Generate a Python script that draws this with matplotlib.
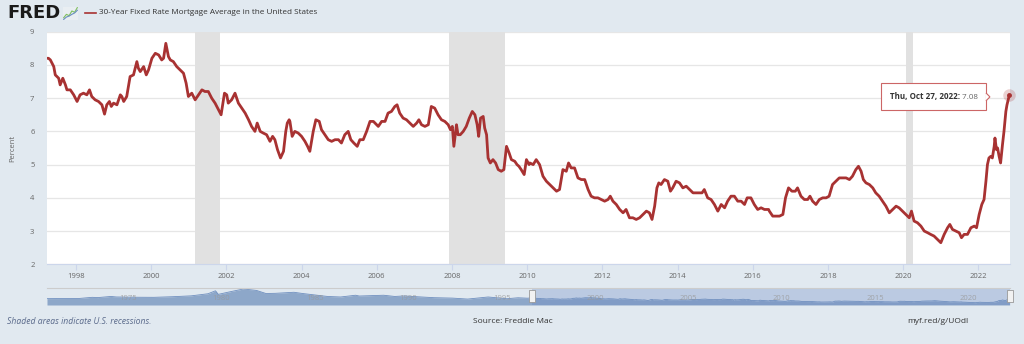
import matplotlib
matplotlib.use("Agg")
import matplotlib.pyplot as plt
from matplotlib.patches import Rectangle, Polygon
from matplotlib.transforms import IdentityTransform

plt.rcParams['font.family'] = ['Open Sans', 'DejaVu Sans']

# weekly 30-year fixed rate (decimal year, percent)
years = [
    1997.23, 1997.27, 1997.32, 1997.41, 1997.45, 1997.54, 1997.58, 1997.65, 1997.72, 1997.76,
    1997.85, 1997.94, 1998.03, 1998.11, 1998.20, 1998.29, 1998.36, 1998.42, 1998.51, 1998.60,
    1998.69, 1998.76, 1998.82, 1998.89, 1998.94, 1999.00, 1999.09, 1999.18, 1999.22, 1999.27,
    1999.35, 1999.44, 1999.53, 1999.62, 1999.66, 1999.71, 1999.80, 1999.87, 1999.93, 2000.02,
    2000.11, 2000.20, 2000.28, 2000.33, 2000.39, 2000.46, 2000.51, 2000.59, 2000.68, 2000.77,
    2000.86, 2000.93, 2000.99, 2001.08, 2001.17, 2001.26, 2001.35, 2001.43, 2001.52, 2001.61,
    2001.70, 2001.79, 2001.86, 2001.95, 2002.01, 2002.05, 2002.14, 2002.23, 2002.32, 2002.41,
    2002.50, 2002.59, 2002.67, 2002.76, 2002.82, 2002.90, 2002.98, 2003.07, 2003.16, 2003.23,
    2003.29, 2003.36, 2003.44, 2003.52, 2003.58, 2003.62, 2003.67,
    2003.69, 2003.75, 2003.82, 2003.91, 2004.00, 2004.09, 2004.16, 2004.22, 2004.31, 2004.38,
    2004.47, 2004.53, 2004.62, 2004.71, 2004.80, 2004.89, 2004.98, 2005.06, 2005.15, 2005.24,
    2005.31, 2005.39, 2005.48, 2005.55, 2005.64, 2005.73, 2005.82, 2005.91, 2006.04, 2006.13,
    2006.22, 2006.30, 2006.39, 2006.48, 2006.54, 2006.61, 2006.70, 2006.79, 2006.88, 2006.97,
    2007.06, 2007.12, 2007.19, 2007.28, 2007.37, 2007.45, 2007.54, 2007.63, 2007.72, 2007.81,
    2007.90, 2007.96, 2008.01, 2008.05, 2008.12, 2008.16, 2008.22, 2008.30, 2008.38, 2008.46,
    2008.54, 2008.61, 2008.67, 2008.71, 2008.76, 2008.83, 2008.87, 2008.92, 2008.96, 2009.02,
    2009.09, 2009.16, 2009.23, 2009.31, 2009.38, 2009.45, 2009.52, 2009.58, 2009.67, 2009.73,
    2009.78, 2009.84, 2009.92, 2009.98, 2010.05,
    2010.07, 2010.16, 2010.24, 2010.33, 2010.42, 2010.51, 2010.60, 2010.69, 2010.78, 2010.86,
    2010.95, 2011.04, 2011.10, 2011.17, 2011.26, 2011.35, 2011.44, 2011.53, 2011.62, 2011.70,
    2011.79, 2011.88, 2011.97, 2012.06, 2012.15, 2012.21, 2012.28, 2012.37, 2012.46, 2012.55,
    2012.63, 2012.72, 2012.81, 2012.90, 2012.99, 2013.08, 2013.17, 2013.25, 2013.32, 2013.39,
    2013.45, 2013.50, 2013.56, 2013.65, 2013.74, 2013.81, 2013.87, 2013.96, 2014.05, 2014.14,
    2014.23, 2014.32, 2014.41, 2014.49, 2014.58, 2014.65, 2014.71, 2014.80, 2014.89, 2014.98,
    2015.07, 2015.16, 2015.25, 2015.33, 2015.42, 2015.51, 2015.60, 2015.69, 2015.78, 2015.85,
    2015.95, 2016.04, 2016.13, 2016.22, 2016.31, 2016.42,
    2016.44, 2016.53, 2016.62, 2016.71, 2016.80, 2016.87, 2016.95, 2017.04, 2017.13, 2017.19,
    2017.28, 2017.37, 2017.46, 2017.52, 2017.59, 2017.68, 2017.77, 2017.86, 2017.95, 2018.03,
    2018.12, 2018.21, 2018.30, 2018.39, 2018.48, 2018.57, 2018.65, 2018.74, 2018.81, 2018.88,
    2018.94, 2019.01, 2019.10, 2019.19, 2019.27, 2019.36, 2019.45, 2019.54, 2019.63, 2019.72,
    2019.81, 2019.89, 2019.98, 2020.07, 2020.16, 2020.22, 2020.29, 2020.38, 2020.47, 2020.56,
    2020.65, 2020.73, 2020.82, 2020.91, 2021.00, 2021.09, 2021.18, 2021.24, 2021.31, 2021.40,
    2021.49, 2021.55, 2021.62, 2021.71, 2021.80, 2021.89, 2021.95, 2022.02, 2022.09, 2022.15,
    2022.20, 2022.24, 2022.28, 2022.33, 2022.37, 2022.42, 2022.44, 2022.48, 2022.51, 2022.55,
    2022.59, 2022.64, 2022.68, 2022.73, 2022.76, 2022.82,
]
rates = [
    8.20, 8.20, 8.15, 7.95, 7.70, 7.60, 7.40, 7.60, 7.40, 7.25,
    7.25, 7.10, 6.90, 7.10, 7.15, 7.10, 7.25, 7.05, 6.95, 6.90,
    6.80, 6.52, 6.80, 6.90, 6.75, 6.85, 6.80, 7.10, 7.05, 6.90,
    7.05, 7.65, 7.70, 8.10, 7.90, 7.80, 7.95, 7.70, 7.85, 8.20,
    8.35, 8.30, 8.15, 8.20, 8.65, 8.25, 8.15, 8.10, 7.95, 7.85,
    7.75, 7.45, 7.05, 7.15, 6.95, 7.10, 7.25, 7.20, 7.20, 7.00,
    6.85, 6.65, 6.50, 7.15, 7.10, 6.85, 6.95, 7.15, 6.85, 6.70,
    6.55, 6.35, 6.15, 6.00, 6.25, 6.00, 5.95, 5.90, 5.70, 5.85,
    5.75, 5.45, 5.20, 5.40, 6.00, 6.25, 6.35,
    6.30, 5.85, 6.00, 5.95, 5.85, 5.70, 5.55, 5.40, 6.00, 6.35,
    6.30, 6.05, 5.90, 5.75, 5.70, 5.75, 5.75, 5.65, 5.90, 6.00,
    5.75, 5.65, 5.55, 5.75, 5.75, 6.00, 6.30, 6.30, 6.15, 6.30,
    6.30, 6.55, 6.60, 6.75, 6.80, 6.55, 6.40, 6.35, 6.25, 6.15,
    6.25, 6.35, 6.20, 6.15, 6.20, 6.75, 6.70, 6.50, 6.35, 6.30,
    6.20, 6.05, 6.15, 5.55, 6.20, 5.90, 5.90, 6.00, 6.15, 6.40,
    6.60, 6.50, 6.20, 5.85, 6.40, 6.45, 6.10, 5.90, 5.20, 5.05,
    5.15, 5.05, 4.85, 4.80, 4.85, 5.55, 5.35, 5.15, 5.10, 5.00,
    4.95, 4.85, 4.70, 5.15, 5.00,
    5.05, 5.00, 5.15, 5.00, 4.65, 4.50, 4.40, 4.30, 4.20, 4.25,
    4.85, 4.80, 5.05, 4.90, 4.90, 4.60, 4.55, 4.55, 4.25, 4.05,
    4.00, 4.00, 3.95, 3.90, 3.95, 4.05, 3.90, 3.80, 3.65, 3.55,
    3.65, 3.40, 3.40, 3.35, 3.40, 3.50, 3.60, 3.55, 3.35, 3.75,
    4.30, 4.45, 4.40, 4.55, 4.50, 4.20, 4.30, 4.50, 4.45, 4.30,
    4.35, 4.25, 4.15, 4.15, 4.15, 4.15, 4.25, 4.00, 3.95, 3.80,
    3.60, 3.80, 3.70, 3.90, 4.05, 4.05, 3.90, 3.90, 3.80, 4.00,
    4.00, 3.80, 3.65, 3.70, 3.65, 3.65,
    3.60, 3.45, 3.45, 3.45, 3.50, 4.00, 4.30, 4.20, 4.20, 4.30,
    4.05, 3.95, 3.95, 4.05, 3.90, 3.80, 3.95, 4.00, 4.00, 4.05,
    4.40, 4.50, 4.60, 4.60, 4.60, 4.55, 4.65, 4.85, 4.95, 4.80,
    4.55, 4.45, 4.40, 4.30, 4.15, 4.05, 3.90, 3.75, 3.55, 3.65,
    3.75, 3.70, 3.60, 3.50, 3.40, 3.60, 3.30, 3.25, 3.15, 3.00,
    2.95, 2.90, 2.85, 2.75, 2.65, 2.90, 3.10, 3.20, 3.05, 3.00,
    2.95, 2.80, 2.90, 2.90, 3.10, 3.15, 3.10, 3.50, 3.80, 3.95,
    4.50, 5.00, 5.20, 5.25, 5.20, 5.55, 5.80, 5.45, 5.50, 5.25,
    5.05, 5.60, 6.00, 6.60, 6.80, 7.08,
]

# earlier history, only shown in the navigator strip
hist_years = [1971.28, 1972.0, 1973.0, 1973.7, 1974.0, 1974.7, 1975.0, 1976.0, 1977.0, 1978.0,
              1979.0, 1979.9, 1980.3, 1980.45, 1981.0, 1981.8, 1982.5, 1983.0, 1983.5, 1984.5,
              1985.0, 1986.0, 1986.3, 1987.0, 1987.8, 1988.0, 1989.3, 1989.9, 1990.4, 1991.0,
              1992.0, 1993.0, 1993.8, 1994.9, 1995.9, 1996.5, 1997.0]
hist_rates = [7.3, 7.4, 7.5, 8.8, 8.5, 9.8, 9.2, 8.9, 8.8, 9.5,
              10.5, 12.9, 16.3, 12.2, 14.8, 18.4, 16.7, 13.2, 13.4, 14.6,
              13.1, 10.5, 9.8, 9.2, 11.2, 10.3, 11.2, 9.8, 10.4, 9.6,
              8.4, 7.9, 6.8, 9.2, 7.2, 8.3, 7.8]

recessions = [(2001.17, 2001.84), (2007.92, 2009.42), (2020.08, 2020.25)]
nav_labels = [1975, 1980, 1985, 1990, 1995, 2000, 2005, 2010, 2015, 2020]

icon_x = [0, 1, 2, 3, 4, 5]
icon_a = [1, 2, 1.6, 3, 2.6, 4]
icon_b = [0.5, 1.2, 1.5, 2.0, 2.4, 3.2]

BG = '#e1e9f0'
RED = '#a83232'
X0, X1 = 1997.23, 2022.84

fig = plt.figure(figsize=(10.24, 3.44), dpi=100, facecolor=BG)

# main plot
ax = fig.add_axes([47 / 1024, 1 - 264.3 / 344, 963 / 1024, 232.6 / 344])
ax.set_facecolor('white')
ax.plot(years, rates, color=RED, lw=2.0, solid_joinstyle='round', zorder=3)
for a, b in recessions:
    ax.axvspan(a, b, color='#e1e1e1', lw=0, zorder=1)
ax.set_xlim(X0, X1)
ax.set_ylim(2, 9)
ax.set_yticks(range(2, 10))
ax.set_xticks(range(1998, 2023, 2))
ax.set_axisbelow(True)
ax.grid(axis='y', color='#e6e6e6', lw=0.9)
for s in ['top', 'right', 'left']:
    ax.spines[s].set_visible(False)
ax.spines['bottom'].set_color('#ccd6eb')
ax.tick_params(axis='y', length=0, pad=9, labelsize=5.5, labelcolor='#666666')
ax.tick_params(axis='x', length=4.5, color='#ccd6eb', pad=1.5, labelsize=5.5, labelcolor='#666666')
ax.set_ylabel('Percent', fontsize=5.5, color='#666666', labelpad=10)

# last point + tooltip
lx, ly = years[-1], rates[-1]
ax.plot(lx, ly, 'o', ms=9, color=RED, alpha=0.22, mec='none', zorder=4, clip_on=False)
ax.plot(lx, ly, 'o', ms=2.5, color=RED, zorder=5, clip_on=False)
t1 = ax.annotate('Thu, Oct 27, 2022:', xy=(lx, ly), xytext=(-86, -1),
                 textcoords='offset points', ha='left', va='center',
                 fontsize=5.8, color='#333333', fontweight='bold', zorder=7)
t2 = ax.annotate(' 7.08', xy=(1, 0), xycoords=t1, ha='left', va='bottom',
                 fontsize=5.8, color='#666666', zorder=7)

fig.canvas.draw()
rend = fig.canvas.get_renderer()
e1 = t1.get_window_extent(rend)
e2 = t2.get_window_extent(rend)
cy = (e1.y0 + e1.y1) / 2
bx0, bx1 = e1.x0 - 9, e2.x1 + 8
tip = Rectangle((bx0, cy - 13.5), bx1 - bx0, 27, transform=IdentityTransform(),
                fc='white', ec='#cc6666', lw=0.8, zorder=6, clip_on=False)
ax.add_artist(tip)
ax.add_artist(Polygon([(bx1, cy + 4), (bx1 + 4, cy), (bx1, cy - 4)], closed=False,
                      transform=IdentityTransform(), fc='white', ec='#cc6666', lw=0.8,
                      zorder=6, clip_on=False))

# navigator
nav = fig.add_axes([47 / 1024, 1 - 305 / 344, 963 / 1024, 17 / 344])
nav.set_facecolor(BG)
nx = hist_years + years
ny = hist_rates + rates
nav.fill_between(nx, ny, color='#8da7c9', lw=0)
nav.plot(nx, ny, color='#6f8fbf', lw=0.6)
nav.set_xlim(hist_years[0], X1)
nav.set_ylim(0, 19.5)
nav.axvspan(X0, X1, color='#6685c2', alpha=0.3, lw=0)
nav.axhline(19.5, color='#cccccc', lw=0.8, clip_on=False)
nav.set_xticks([])
nav.set_yticks([])
for s in nav.spines.values():
    s.set_visible(False)
for yr in nav_labels:
    nav.annotate(str(yr), xy=(yr, 7), xytext=(2, 0), textcoords='offset points',
                 ha='left', va='center', fontsize=5.5, color='#999999', alpha=0.8)
handle = [(-1, -2), (1, -2), (1, 2), (-1, 2), (-1, -2)]
for hx in [X0, X1]:
    nav.plot(hx, 10, marker=handle, ms=8, mfc='#f2f2f2', mec='#999999', mew=0.6,
             clip_on=False, zorder=5)

# header
fig.text(7 / 1024, 1 - 13 / 344, 'FRED', fontsize=13, fontweight='heavy', color='#1a1a1a',
         va='center', family=['DejaVu Sans'])
icon = fig.add_axes([63 / 1024, 1 - 20 / 344, 15 / 1024, 13 / 344])
icon.set_facecolor('#e9eef2')
icon.plot(icon_x, icon_a, color='#7fbf5f', lw=0.8)
icon.plot(icon_x, icon_b, color='#6a8fc0', lw=0.8)
icon.set_xticks([])
icon.set_yticks([])
for s in icon.spines.values():
    s.set_visible(False)
fig.lines.append(plt.Line2D([85 / 1024, 96 / 1024], [1 - 13 / 344, 1 - 13 / 344],
                            transform=fig.transFigure, color=RED, lw=1.2))
fig.text(99 / 1024, 1 - 13 / 344, '30-Year Fixed Rate Mortgage Average in the United States',
         fontsize=5.9, color='#333333', va='center')

# footer
fig.text(7 / 1024, 1 - 321.5 / 344, 'Shaded areas indicate U.S. recessions.', fontsize=6.2,
         style='italic', color='#5b6b8c', va='center')
fig.text(513 / 1024, 1 - 321.5 / 344, 'Source: Freddie Mac', fontsize=6.0, color='#333333',
         va='center', ha='center')
fig.text(907 / 1024, 1 - 321.5 / 344, 'myf.red/g/UOdl', fontsize=6.0, color='#333333',
         va='center')

fig.savefig('out.png', dpi=100, facecolor=BG)
